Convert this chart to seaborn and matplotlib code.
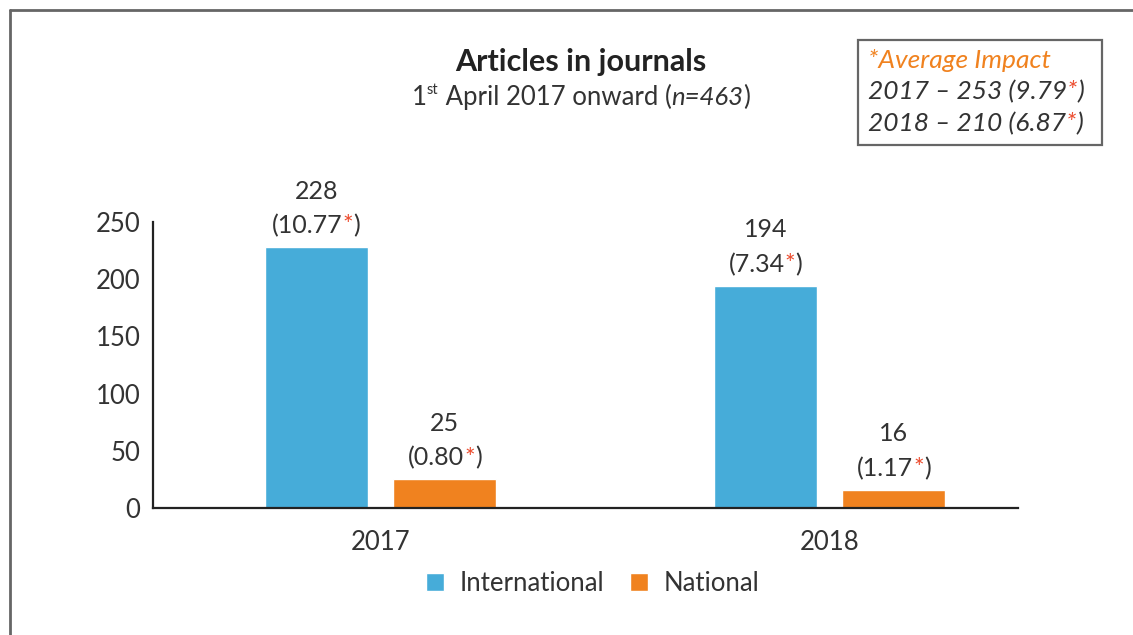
import pandas as pd
import matplotlib.pyplot as plt
import seaborn as sns
from matplotlib.lines import Line2D
from matplotlib.transforms import offset_copy

# values
years = ["2017", "2018"]
international = [228, 194]
national = [25, 16]
intl_impact = ["10.77", "7.34"]
natl_impact = ["0.80", "1.17"]
totals = [253, 210]
total_impact = ["9.79", "6.87"]

BLUE = "#46acd9"
ORANGE = "#f0821f"
RED = "#ec4a2c"
TXT = "#333333"

df = pd.DataFrame({
    "year": years * 2,
    "count": international + national,
    "type": ["International"] * 2 + ["National"] * 2,
})

sns.set_style("white")
plt.rcParams["font.family"] = ["Lato", "DejaVu Sans"]
plt.rcParams["text.color"] = TXT

fig = plt.figure(figsize=(11.33, 6.35), dpi=100)
ax = fig.add_axes([0.135, 0.2, 0.7635, 0.4504])

sns.barplot(data=df, x="year", y="count", hue="type",
            palette=[BLUE, ORANGE], width=0.5725, gap=0.2,
            saturation=1, ax=ax, legend=True)

ax.set_xlim(-0.507, 1.42)
ax.set_ylim(0, 250)
ax.set_yticks([0, 50, 100, 150, 200, 250])
ax.set_xlabel("")
ax.set_ylabel("")
ax.tick_params(axis="both", length=0, labelsize=18.5, labelcolor=TXT)
ax.tick_params(axis="x", pad=16)
ax.tick_params(axis="y", pad=9)
sns.despine(ax=ax)
for s in ["left", "bottom"]:
    ax.spines[s].set_color("#222222")
    ax.spines[s].set_linewidth(1.6)

renderer = fig.canvas.get_renderer()


def draw_parts(x, y, parts, transform, ha="center", size=18):
    # parts: list of (text, color, style, size, raise)
    items = []
    total = 0.0
    for p in parts:
        s, c, st, sz, up = p
        t = fig.text(0, 0, s, color=c, style=st, fontsize=sz or size,
                     ha="left", va="baseline", transform=transform)
        w = t.get_window_extent(renderer).width * 72 / fig.dpi
        items.append((t, w, up))
        total += w
    start = -total / 2 if ha == "center" else 0.0
    pos = start
    for t, w, up in items:
        t.set_transform(offset_copy(transform, fig=fig, x=pos, y=up, units="points"))
        t.set_position((x, y))
        pos += w


# bar labels: count on top, impact in brackets with red asterisk
for cont, counts, imps in zip(ax.containers, [international, national],
                              [intl_impact, natl_impact]):
    for bar, n, imp in zip(cont, counts, imps):
        cx = bar.get_x() + bar.get_width() / 2
        top = bar.get_height()
        tr = offset_copy(ax.transData, fig=fig, x=0, y=10, units="points")
        draw_parts(cx, top, [("(" + imp, TXT, "normal", None, 0),
                             ("*", RED, "normal", None, 0),
                             (")", TXT, "normal", None, 0)], tr)
        tr2 = offset_copy(ax.transData, fig=fig, x=0, y=35, units="points")
        draw_parts(cx, top, [(str(n), TXT, "normal", None, 0)], tr2)

# legend
handles, labels = ax.get_legend_handles_labels()
ax.legend(handles, labels, loc="center", bbox_to_anchor=(0.523, 0.081),
          bbox_transform=fig.transFigure, ncol=2, frameon=False,
          fontsize=18.5, handlelength=0.7, handleheight=0.7,
          handletextpad=0.6, columnspacing=1.0)

# title and subtitle
fig.text(0.513, 0.902, "Articles in journals", ha="center", va="center",
         fontsize=22, fontweight="bold", color="#222222")
draw_parts(0.513, 0.835, [("1", TXT, "normal", 18.5, 0),
                          ("st", TXT, "normal", 10.5, 7.5),
                          (" April 2017 onward (", TXT, "normal", 18.5, 0),
                          ("n=463", TXT, "italic", 18.5, 0),
                          (")", TXT, "normal", 18.5, 0)], fig.transFigure)

# average impact box
fig.add_artist(plt.Rectangle((858 / 1133, 1 - 145 / 635), 244 / 1133, 105 / 635,
                             transform=fig.transFigure, fill=False,
                             edgecolor="#666666", linewidth=1.6))
fig.text(868 / 1133, 1 - 68 / 635, "*Average Impact", color=ORANGE,
         style="italic", fontsize=19, ha="left", va="baseline")
for i, (yr, tot, imp) in enumerate(zip(years, totals, total_impact)):
    yb = 1 - (99 + 32 * i) / 635
    draw_parts(868 / 1133, yb, [(f"{yr} \u2013 {tot} ({imp}", TXT, "italic", 19, 0),
                                ("*", RED, "italic", 19, 0),
                                (")", TXT, "italic", 19, 0)],
               fig.transFigure, ha="left")

# outer frame (cropped at right and bottom)
fig.add_artist(Line2D([10 / 1133, 1], [1 - 10 / 635, 1 - 10 / 635],
                      transform=fig.transFigure, color="#666666", linewidth=2))
fig.add_artist(Line2D([10 / 1133, 10 / 1133], [0, 1 - 10 / 635],
                      transform=fig.transFigure, color="#666666", linewidth=2))

fig.savefig("out.png", dpi=100)
